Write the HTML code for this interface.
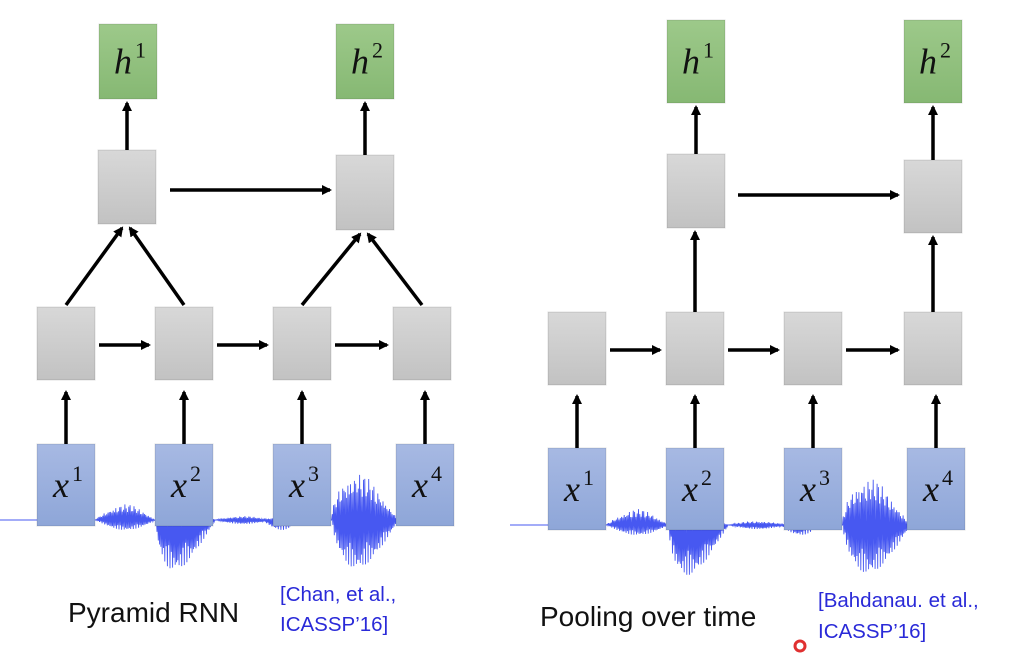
<!DOCTYPE html>
<html><head><meta charset="utf-8"><style>
body{margin:0;background:#fff;width:1027px;height:657px;overflow:hidden}
svg{display:block}
.t{font-family:"Liberation Serif",serif;font-style:italic;font-size:36px;fill:#111}
.s{font-family:"Liberation Serif",serif;font-size:22px;fill:#111}
</style></head><body>
<svg width="1027" height="657" viewBox="0 0 1027 657">
<defs>
<linearGradient id="gg" x1="0" y1="0" x2="0" y2="1"><stop offset="0" stop-color="#d8d8d8"/><stop offset="1" stop-color="#c2c2c2"/></linearGradient>
<linearGradient id="gb" x1="0" y1="0" x2="0" y2="1"><stop offset="0" stop-color="#a7b9e3"/><stop offset="1" stop-color="#8ea6d8"/></linearGradient>
<linearGradient id="gh" x1="0" y1="0" x2="0" y2="1"><stop offset="0" stop-color="#9dc98a"/><stop offset="1" stop-color="#86b873"/></linearGradient>
<marker id="ah" markerWidth="10" markerHeight="10" refX="8" refY="5" orient="auto" markerUnits="userSpaceOnUse"><path d="M0,0 L10,5 L0,10 z" fill="#000"/></marker>
</defs>
<g id="waves"></g>
<g id="arrows" stroke="#000" stroke-width="3.5" fill="none"></g>
<g id="boxes"></g>
<text x="68" y="622" font-family="Liberation Sans,sans-serif" font-size="28" fill="#111">Pyramid RNN</text>
<text x="280" y="601" font-family="Liberation Sans,sans-serif" font-size="20.5" fill="#2a2ad8">[Chan, et al.,</text>
<text x="280" y="631" font-family="Liberation Sans,sans-serif" font-size="20.5" fill="#2a2ad8">ICASSP’16]</text>
<text x="540" y="626" font-family="Liberation Sans,sans-serif" font-size="28" fill="#111">Pooling over time</text>
<text x="818" y="607" font-family="Liberation Sans,sans-serif" font-size="20.5" fill="#2a2ad8">[Bahdanau. et al.,</text>
<text x="818" y="638" font-family="Liberation Sans,sans-serif" font-size="20.5" fill="#2a2ad8">ICASSP’16]</text>
<circle cx="800" cy="646" r="5" fill="#fff" stroke="#e03030" stroke-width="3"/>
</svg>
<script>
const NS="http://www.w3.org/2000/svg";
const boxes=document.getElementById('boxes'),arrows=document.getElementById('arrows'),waves=document.getElementById('waves');
function box(x,y,w,h,fill,label,sup,name){
  const g=document.createElementNS(NS,'g');
  
  
  const r=document.createElementNS(NS,'rect');
  r.setAttribute('x',x);r.setAttribute('y',y);r.setAttribute('width',w);r.setAttribute('height',h);
  r.setAttribute('fill',fill);r.setAttribute('stroke','rgba(0,0,0,0.12)');
  g.appendChild(r);
  if(label){
    const t=document.createElementNS(NS,'text');
    t.setAttribute('x',x+w/2+2);t.setAttribute('y',y+h/2+12);t.setAttribute('text-anchor','middle');
    t.setAttribute('class','t');
    t.innerHTML=label+'<tspan class="s" dx="3" dy="-16" font-style="normal">'+sup+'</tspan>';
    g.appendChild(t);
  }
  boxes.appendChild(g);
}
function arr(x1,y1,x2,y2){
  const l=document.createElementNS(NS,'line');
  l.setAttribute('x1',x1);l.setAttribute('y1',y1);l.setAttribute('x2',x2);l.setAttribute('y2',y2);
  l.setAttribute('marker-end','url(#ah)');
  
  
  arrows.appendChild(l);
}
const W=58;
const Lx=[37,155,273,396], Lm=[37,155,273,393];
Lx.forEach((x,i)=>{box(x,444,W,82,'url(#gb)','x',i+1,'input-x'+(i+1)+'-left');arr(x+29,444,x+29,392);});
Lm.forEach((x,i)=>box(x,307,W,73,'url(#gg)','','','rnn-cell-l1-'+(i+1)+'-left'));
for(let i=0;i<3;i++)arr(Lm[i]+W+4,345,Lm[i+1]-6,345);
box(98,150,W,74,'url(#gg)','','','rnn-cell-l2-1-left');
box(336,155,W,75,'url(#gg)','','','rnn-cell-l2-2-left');
arr(66,305,122,228);arr(184,305,130,228);arr(302,305,360,234);arr(422,305,368,234);
arr(170,190,330,190);
box(99,24,W,75,'url(#gh)','h',1,'output-h1-left');box(336,24,W,75,'url(#gh)','h',2,'output-h2-left');
arr(127,150,127,103);arr(365,155,365,103);
const Rx=[548,666,784,907], Rm=[548,666,784,904];
Rx.forEach((x,i)=>{box(x,448,W,82,'url(#gb)','x',i+1,'input-x'+(i+1)+'-right');arr(x+29,448,x+29,396);});
Rm.forEach((x,i)=>box(x,312,W,73,'url(#gg)','','','rnn-cell-l1-'+(i+1)+'-right'));
for(let i=0;i<3;i++)arr(Rm[i]+W+4,350,Rm[i+1]-6,350);
box(667,154,W,74,'url(#gg)','','','rnn-cell-l2-1-right');
box(904,160,W,73,'url(#gg)','','','rnn-cell-l2-2-right');
arr(695,312,695,232);arr(933,312,933,237);
arr(738,195,898,195);
box(667,20,W,83,'url(#gh)','h',1,'output-h1-right');box(904,20,W,83,'url(#gh)','h',2,'output-h2-right');
arr(696,154,696,107);arr(933,160,933,107);
function wave(x0,y0,segs){
  let d='M'+(x0-20)+','+y0+' L'+x0+','+y0;
  segs.forEach(s=>{
    for(let x=s[0];x<s[1];x+=1.3){
      const t=(x-s[0])/(s[1]-s[0]);
      const env=Math.sin(Math.PI*Math.pow(t,s[4]||1));
      const a=s[2]*env*(0.5+0.5*Math.abs(Math.sin(x*1.7)*Math.cos(x*0.63)));
      const b=s[3]*env*(0.5+0.5*Math.abs(Math.cos(x*1.3)));
      d+=' L'+x.toFixed(1)+','+(y0-a).toFixed(1)+' L'+(x+0.65).toFixed(1)+','+(y0+b).toFixed(1);
    }
    d+=' L'+s[1]+','+y0;
  });
  const p=document.createElementNS(NS,'path');
  p.setAttribute('d',d);p.setAttribute('stroke','#3346f0');p.setAttribute('stroke-width','0.9');p.setAttribute('fill','none');p.setAttribute('stroke-opacity','0.9');
  
  
  waves.appendChild(p);
}
wave(20,520,[[95,155,16,10],[155,215,18,50,0.6],[215,270,4,4],[262,300,3,10],[331,398,48,48,0.7]]);
wave(530,525,[[606,668,16,10],[668,728,18,50,0.6],[728,786,4,4],[780,820,3,10],[842,910,48,48,0.7]]);
</script>
</body></html>
